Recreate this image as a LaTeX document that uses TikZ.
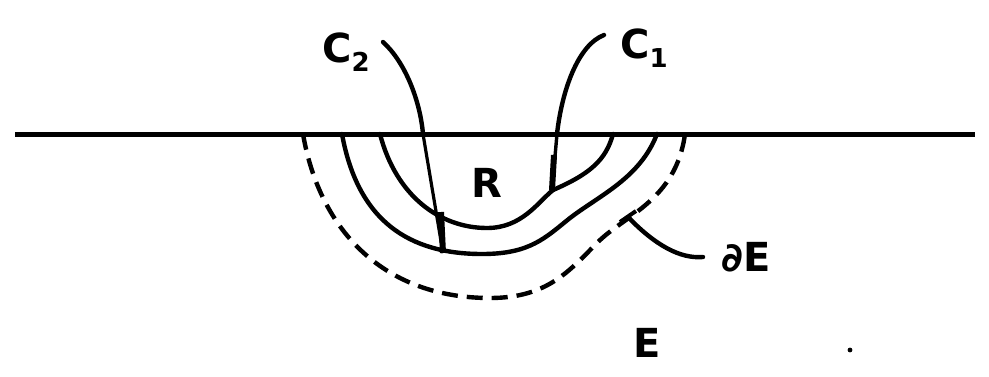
\documentclass[tikz,border=0pt]{standalone}
\usepackage{fontspec}
\setmainfont{DejaVu Sans}
\begin{document}
\begin{tikzpicture}[x=1pt,y=-1pt,
  curve/.style={line width=4.4pt,line cap=round,line join=round},
  dashcurve/.style={line width=4.4pt,dash pattern=on 16pt off 9pt},
  leader/.style={line width=4.4pt,line cap=round},
  lab/.style={font=\fontsize{40}{42}\selectfont\bfseries,inner sep=0pt}]
\useasboundingbox (0,0) rectangle (989,376);
% surface
\coordinate (L) at (15,134);
\coordinate (Rr) at (975,134);
\draw[line width=5pt] (L) -- (Rr);
% dashed boundary of E
\draw[dashcurve] (303,134) .. controls (320,232) and (385,298) .. (490,298)
   .. controls (548,298) and (570,270) .. (598,242)
   .. controls (625,215) and (676,200) .. (685,134);
% outer solid
\draw[curve] (342,134) .. controls (358,222) and (410,254) .. (482,254)
   .. controls (530,254) and (545,238) .. (570,218)
   .. controls (600,195) and (640,178) .. (657,134);
% inner solid
\draw[curve] (380,134) .. controls (396,196) and (440,228) .. (487,228)
   .. controls (522,228) and (538,202) .. (553,190);
\draw[curve] (553,190) .. controls (590,174) and (606,160) .. (613,134);
% curve C2
\coordinate (c2top) at (423,134);
\coordinate (c2bot) at (443,253);
\draw[line width=3.2pt] (c2top) -- (c2bot);
\draw[line width=6pt] (441,212) -- (c2bot);
% curve C1
\coordinate (c1top) at (557,134);
\coordinate (c1bot) at (552,190);
\draw[line width=3.4pt] (c1top) -- (c1bot);
\draw[line width=6pt] (554,155) -- (c1bot);
% labels
\node[lab,anchor=base west] (C2) at (322,62) {C\raisebox{-0.45ex}{\fontsize{26}{28}\selectfont\bfseries 2}};
\node[lab,anchor=base west] (C1) at (620,58) {C\raisebox{-0.45ex}{\fontsize{26}{28}\selectfont\bfseries 1}};
\node[lab] (R) at (487,183) {R};
\node[lab] (dE) at (746,257) {∂E};
\node[lab] (E) at (647,343) {E};
\fill (850,350) circle (2.4pt) coordinate (dot);
% leaders
\draw[leader] (383,42) .. controls (405,62) and (420,100) .. (c2top);
\draw[leader] (604,35) .. controls (578,45) and (562,90) .. (c1top);
\coordinate (dEtip) at (628,217);
\coordinate (dEend) at (703,257);
\draw[leader] (dEend) .. controls (680,259) and (655,245) .. (dEtip);
\draw[line width=4pt] (620,222) -- (636,211);
\end{tikzpicture}
\end{document}
